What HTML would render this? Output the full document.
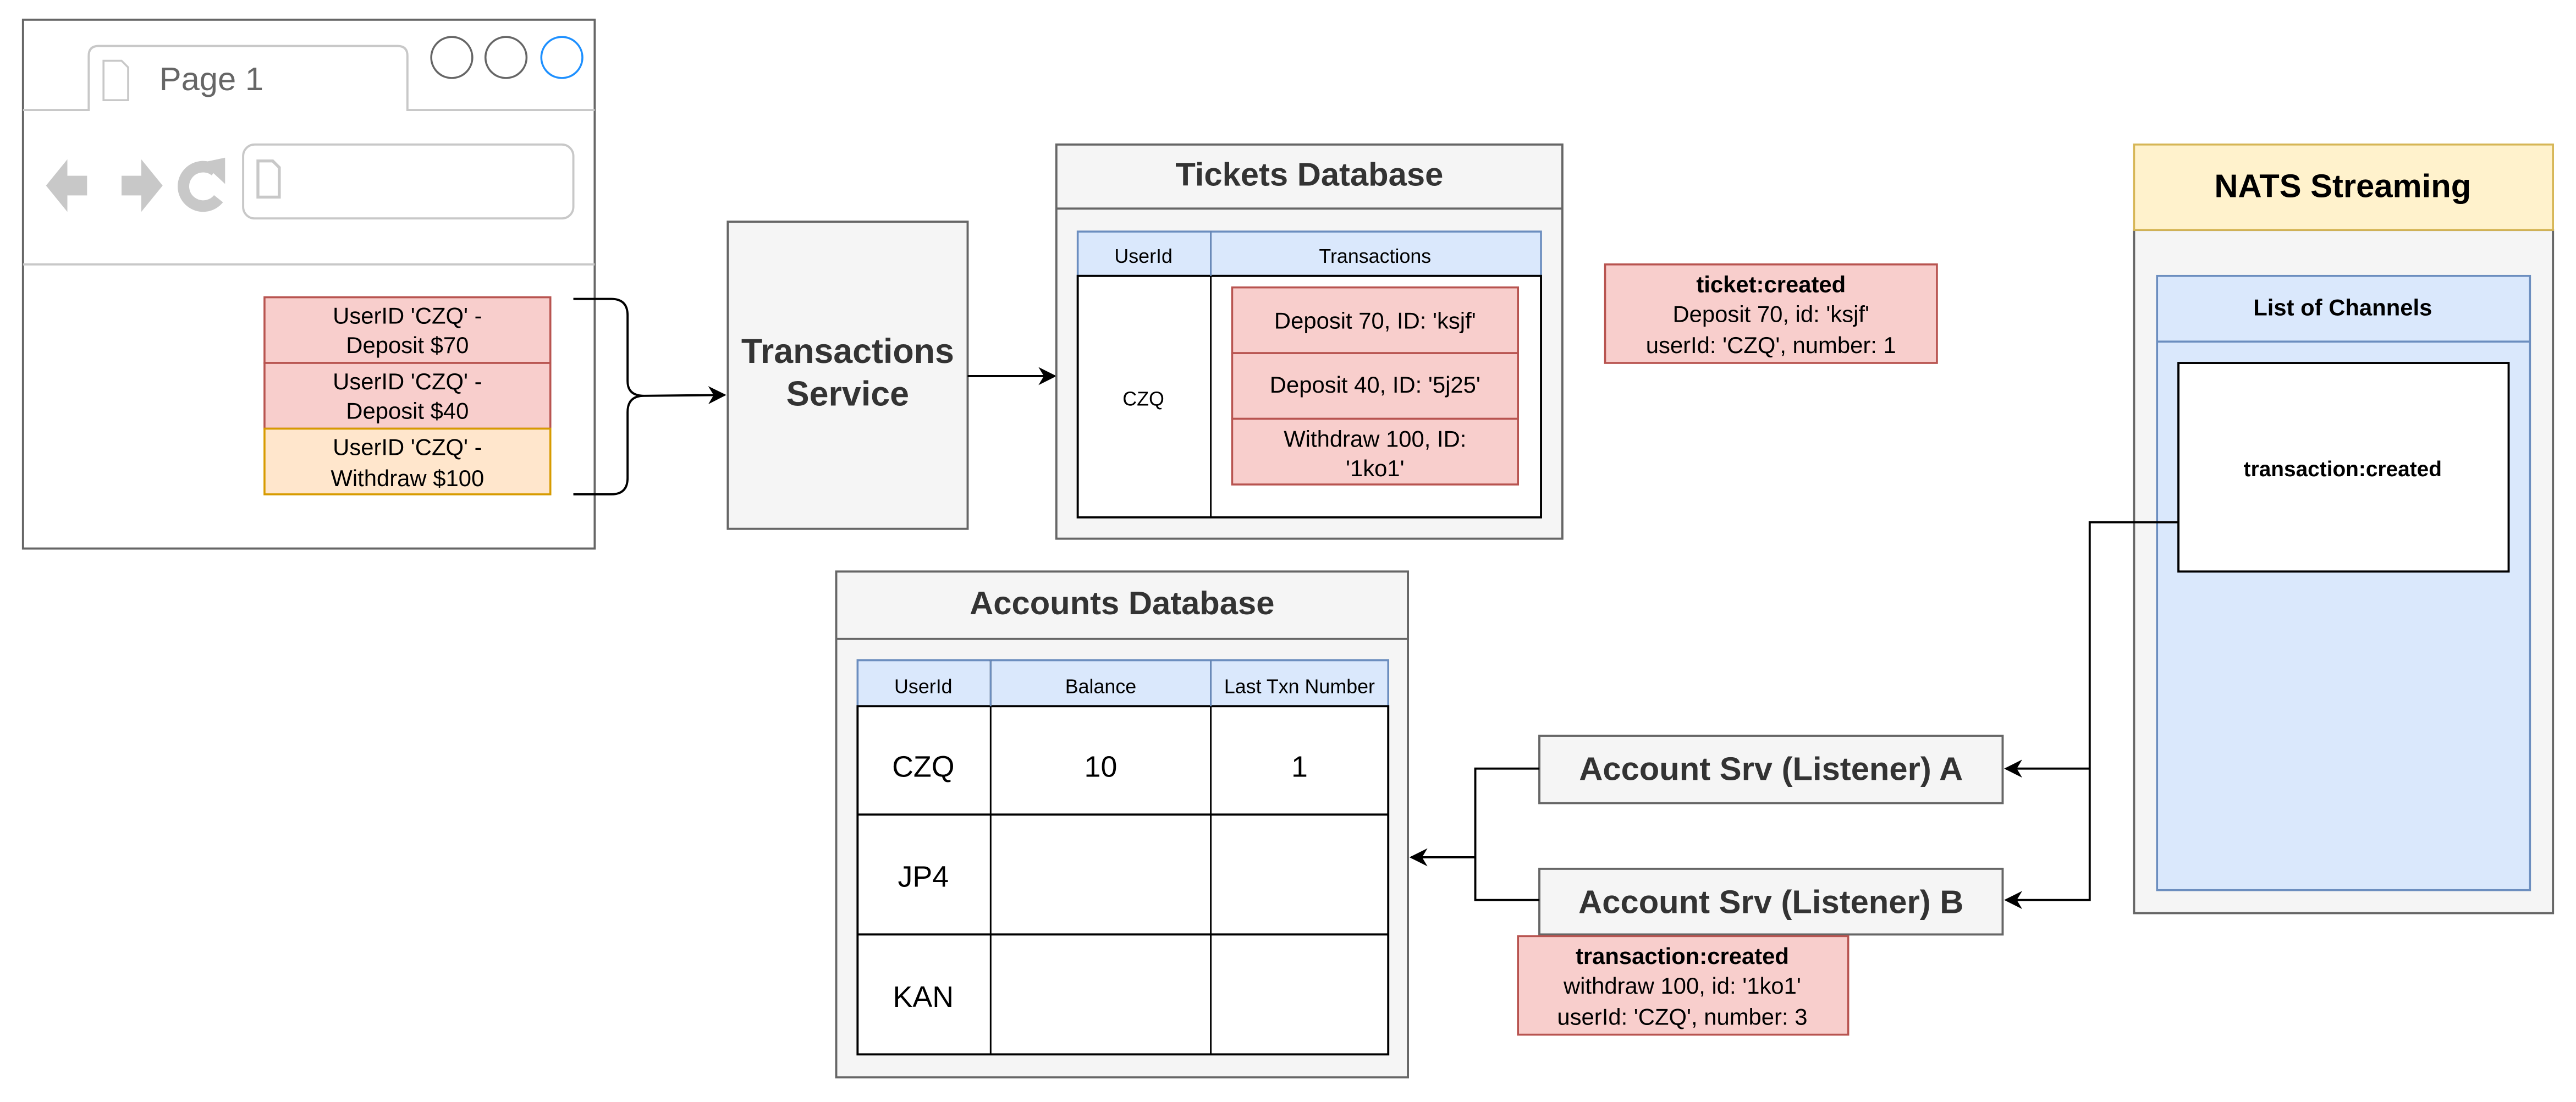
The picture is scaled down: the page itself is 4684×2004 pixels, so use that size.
<!DOCTYPE html>
<html><head><meta charset="utf-8"><style>
html,body{margin:0;padding:0;background:#fff;}
svg{display:block;}
text{font-family:"Liberation Sans",Arial,sans-serif;}
</style></head><body>
<svg width="4684" height="2004" viewBox="0 0 1568 671" preserveAspectRatio="none" xmlns="http://www.w3.org/2000/svg">
<defs>
<marker id="ar" viewBox="0 0 10 10" refX="9" refY="5" markerWidth="12" markerHeight="11" orient="auto" markerUnits="userSpaceOnUse">
<path d="M0,0 L10,5 L0,10 L3,5 Z" fill="#000"/>
</marker>
</defs>
<rect width="1568" height="671" fill="#fff"/>

<!-- Browser -->
<rect x="14" y="12" width="348" height="322" fill="#fff" stroke="#666" stroke-width="1.3"/>
<path d="M14,67 H54 V34 Q54,28 60,28 H242 Q248,28 248,34 V67 H362" fill="none" stroke="#c8c8c8" stroke-width="1.3"/>
<path d="M63,37 H74 L78,41 V61 H63 Z" fill="#fff" stroke="#c8c8c8" stroke-width="1.2"/>
<text x="97" y="55" font-size="20" fill="#666">Page 1</text>
<circle cx="275" cy="35" r="12.5" fill="#fff" stroke="#666" stroke-width="1.2"/>
<circle cx="308" cy="35" r="12.5" fill="#fff" stroke="#666" stroke-width="1.2"/>
<circle cx="342" cy="35" r="12.5" fill="#fff" stroke="#1e90ff" stroke-width="1.2"/>
<rect x="148" y="88" width="201" height="45" rx="7" fill="#fff" stroke="#c8c8c8" stroke-width="1.3"/>
<path d="M157,98 H166 L170,102 V120 H157 Z" fill="#fff" stroke="#c8c8c8" stroke-width="1.8"/>
<path d="M28,113 L41,97 V107 H53 V119 H41 V129 Z" fill="#c8c8c8"/>
<path d="M99,113 L86,97 V107 H74 V119 H86 V129 Z" fill="#c8c8c8"/>
<path d="M131,104 A12,12 0 1 0 133,121" fill="none" stroke="#c8c8c8" stroke-width="7"/>
<path d="M123,99 L137,96 L137,112 Z" fill="#c8c8c8"/>
<line x1="14" y1="161" x2="362" y2="161" stroke="#c8c8c8" stroke-width="1.3"/>

<!-- Events -->
<rect x="161" y="181" width="174" height="40" fill="#f8cecc" stroke="#b85450" stroke-width="1.2"/>
<rect x="161" y="221" width="174" height="40" fill="#f8cecc" stroke="#b85450" stroke-width="1.2"/>
<rect x="161" y="261" width="174" height="40" fill="#ffe6cc" stroke="#d79b00" stroke-width="1.2"/>
<g font-size="14" text-anchor="middle" fill="#000">
<text x="248" y="197">UserID 'CZQ' -</text><text x="248" y="215">Deposit $70</text>
<text x="248" y="237">UserID 'CZQ' -</text><text x="248" y="255">Deposit $40</text>
<text x="248" y="277">UserID 'CZQ' -</text><text x="248" y="296">Withdraw $100</text>
</g>
<path d="M349,182 H372 Q382,182 382,192 V232 Q382,241 392,241 Q382,241 382,251 V291 Q382,301 372,301 H349" fill="none" stroke="#000" stroke-width="1.3"/>
<line x1="392" y1="241" x2="441" y2="240.5" stroke="#000" stroke-width="1.3" marker-end="url(#ar)"/>

<!-- Transactions Service -->
<rect x="443" y="135" width="146" height="187" fill="#f5f5f5" stroke="#666" stroke-width="1.3"/>
<text x="516" y="221" font-size="21" font-weight="bold" fill="#333" text-anchor="middle">Transactions</text>
<text x="516" y="247" font-size="21" font-weight="bold" fill="#333" text-anchor="middle">Service</text>
<line x1="589" y1="229" x2="642" y2="229" stroke="#000" stroke-width="1.3" marker-end="url(#ar)"/>

<!-- Tickets DB -->
<rect x="643" y="88" width="308" height="240" fill="#f5f5f5" stroke="#666" stroke-width="1.3"/>
<line x1="643" y1="127" x2="951" y2="127" stroke="#666" stroke-width="1.3"/>
<text x="797" y="113" font-size="20" font-weight="bold" fill="#333" text-anchor="middle">Tickets Database</text>
<rect x="656" y="141" width="282" height="27" fill="#dae8fc" stroke="#6c8ebf" stroke-width="1.2"/>
<rect x="656" y="168" width="282" height="147" fill="#fff" stroke="#000" stroke-width="1.3"/>
<line x1="737" y1="141" x2="737" y2="315" stroke="#000" stroke-width="1"/>
<line x1="737" y1="141" x2="737" y2="168" stroke="#6c8ebf" stroke-width="1"/>
<text x="696" y="160" font-size="12" text-anchor="middle">UserId</text>
<text x="837" y="160" font-size="12" text-anchor="middle">Transactions</text>
<text x="696" y="247" font-size="12" text-anchor="middle">CZQ</text>
<rect x="750" y="175" width="174" height="40" fill="#f8cecc" stroke="#b85450" stroke-width="1.2"/>
<rect x="750" y="215" width="174" height="40" fill="#f8cecc" stroke="#b85450" stroke-width="1.2"/>
<rect x="750" y="255" width="174" height="40" fill="#f8cecc" stroke="#b85450" stroke-width="1.2"/>
<g font-size="14" text-anchor="middle">
<text x="837" y="200">Deposit 70, ID: 'ksjf'</text>
<text x="837" y="239">Deposit 40, ID: '5j25'</text>
<text x="837" y="272">Withdraw 100, ID:</text>
<text x="837" y="290">'1ko1'</text>
</g>

<!-- ticket:created -->
<rect x="977" y="161" width="202" height="60" fill="#f8cecc" stroke="#b85450" stroke-width="1.2"/>
<g font-size="14" text-anchor="middle">
<text x="1078" y="178" font-weight="bold">ticket:created</text>
<text x="1078" y="196">Deposit 70, id: 'ksjf'</text>
<text x="1078" y="215">userId: 'CZQ', number: 1</text>
</g>

<!-- NATS -->
<rect x="1299" y="140" width="255" height="416" fill="#f5f5f5" stroke="#666" stroke-width="1.3"/>
<rect x="1299" y="88" width="255" height="52" fill="#fff2cc" stroke="#d6b656" stroke-width="1.2"/>
<text x="1426" y="120" font-size="20" font-weight="bold" text-anchor="middle">NATS Streaming</text>
<rect x="1313" y="168" width="227" height="374" fill="#dae8fc" stroke="#6c8ebf" stroke-width="1.2"/>
<line x1="1313" y1="208" x2="1540" y2="208" stroke="#6c8ebf" stroke-width="1.2"/>
<text x="1426" y="192" font-size="14" font-weight="bold" text-anchor="middle">List of Channels</text>
<rect x="1326" y="221" width="201" height="127" fill="#fff" stroke="#000" stroke-width="1.3"/>
<text x="1426" y="290" font-size="13" font-weight="bold" text-anchor="middle">transaction:created</text>
<path d="M1326,318 H1272 V548 H1221" fill="none" stroke="#000" stroke-width="1.3" marker-end="url(#ar)"/>
<path d="M1272,468 H1221" fill="none" stroke="#000" stroke-width="1.3" marker-end="url(#ar)"/>

<!-- Account Srv -->
<rect x="937" y="448" width="282" height="41" fill="#f5f5f5" stroke="#666" stroke-width="1.3"/>
<rect x="937" y="529" width="282" height="40" fill="#f5f5f5" stroke="#666" stroke-width="1.3"/>
<text x="1078" y="475" font-size="20" font-weight="bold" fill="#333" text-anchor="middle">Account Srv (Listener) A</text>
<text x="1078" y="556" font-size="20" font-weight="bold" fill="#333" text-anchor="middle">Account Srv (Listener) B</text>
<path d="M937,468 H898 V548 H937" fill="none" stroke="#000" stroke-width="1.3"/>
<line x1="898" y1="522" x2="859" y2="522" stroke="#000" stroke-width="1.3" marker-end="url(#ar)"/>

<rect x="924" y="570" width="201" height="60" fill="#f8cecc" stroke="#b85450" stroke-width="1.2"/>
<g font-size="14" text-anchor="middle">
<text x="1024" y="587" font-weight="bold">transaction:created</text>
<text x="1024" y="605">withdraw 100, id: '1ko1'</text>
<text x="1024" y="624">userId: 'CZQ', number: 3</text>
</g>

<!-- Accounts DB -->
<rect x="509" y="348" width="348" height="308" fill="#f5f5f5" stroke="#666" stroke-width="1.3"/>
<line x1="509" y1="389" x2="857" y2="389" stroke="#666" stroke-width="1.3"/>
<text x="683" y="374" font-size="20" font-weight="bold" fill="#333" text-anchor="middle">Accounts Database</text>
<rect x="522" y="402" width="323" height="28" fill="#dae8fc" stroke="#6c8ebf" stroke-width="1.2"/>
<rect x="522" y="430" width="323" height="212" fill="#fff" stroke="#000" stroke-width="1.3"/>
<line x1="603" y1="402" x2="603" y2="642" stroke="#000" stroke-width="1"/>
<line x1="737" y1="402" x2="737" y2="642" stroke="#000" stroke-width="1"/>
<line x1="603" y1="402" x2="603" y2="430" stroke="#6c8ebf" stroke-width="1"/>
<line x1="737" y1="402" x2="737" y2="430" stroke="#6c8ebf" stroke-width="1"/>
<line x1="522" y1="496" x2="845" y2="496" stroke="#000" stroke-width="1.3"/>
<line x1="522" y1="569" x2="845" y2="569" stroke="#000" stroke-width="1.3"/>
<g font-size="12" text-anchor="middle">
<text x="562" y="422">UserId</text><text x="670" y="422">Balance</text><text x="791" y="422">Last Txn Number</text>
</g>
<g font-size="18" text-anchor="middle">
<text x="562" y="473">CZQ</text><text x="670" y="473">10</text><text x="791" y="473">1</text>
<text x="562" y="540">JP4</text>
<text x="562" y="613">KAN</text>
</g>
</svg>
</body></html>
